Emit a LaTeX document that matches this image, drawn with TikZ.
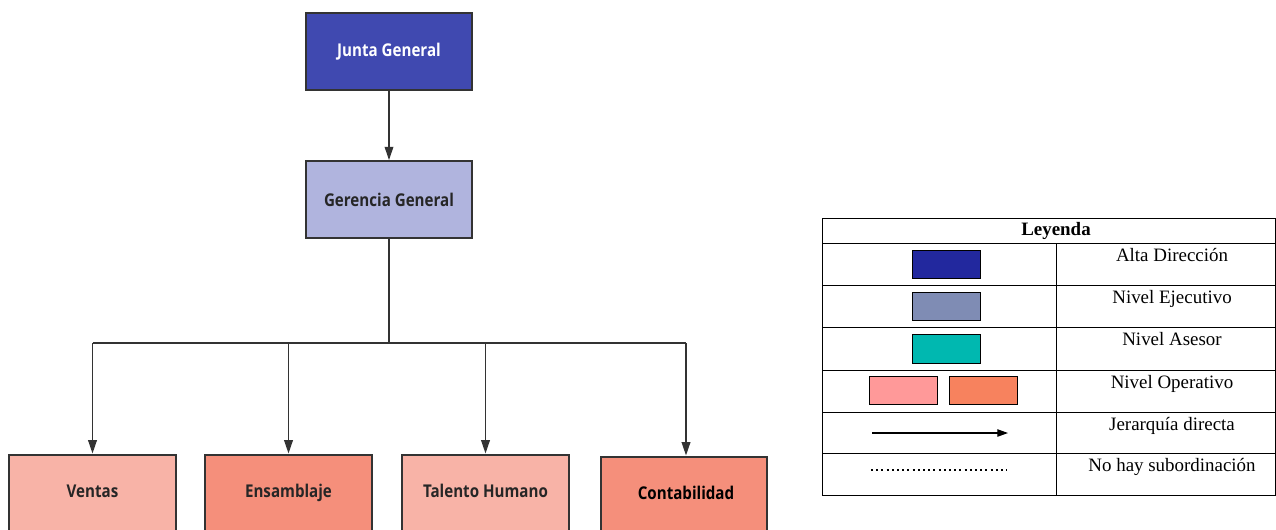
\documentclass[tikz,border=0pt]{standalone}
\usepackage{fontspec}
\setmainfont{Liberation Serif}
\newfontfamily\orgfont[FakeStretch=0.86]{Open Sans}
\usetikzlibrary{arrows.meta}
\definecolor{juntaC}{HTML}{4049B0}
\definecolor{gerC}{HTML}{B0B4DE}
\definecolor{lpink}{HTML}{F8B3A7}
\definecolor{dpink}{HTML}{F58F7B}
\definecolor{altaC}{HTML}{22289E}
\definecolor{ejeC}{HTML}{7F8CB4}
\definecolor{aseC}{HTML}{00B8B0}
\definecolor{opAC}{HTML}{FF9999}
\definecolor{opBC}{HTML}{F7825E}
\definecolor{borderC}{HTML}{333333}
\tikzset{
  orgbox/.style={draw=borderC, line width=1.6pt, minimum width=125pt, minimum height=57.5pt, inner sep=0pt, font=\orgfont\bfseries\fontsize{13.2}{15}\selectfont, text=black!85},
  orgtext/.style={font=\orgfont\bfseries\fontsize{13.2}{15}\selectfont, text=black!85, anchor=base},
  conn/.style={draw=black!80, line width=1.1pt},
  arr/.style={conn, -{Triangle[length=10pt,width=6.5pt]}},
  swatch/.style={draw=black, line width=0.8pt, minimum width=51.5pt, minimum height=21.5pt, inner sep=0pt},
  legtext/.style={font=\fontsize{14.2}{16}\selectfont, anchor=north},
  legline/.style={draw=black, line width=0.6pt}
}
\begin{document}
\begin{tikzpicture}[x=0.75pt,y=-0.75pt]
\useasboundingbox (0,0) rectangle (1276,529);
% org chart
\node[orgbox, fill=juntaC, text=white] (junta) at (389,51.5) {Junta General};
\node[orgbox, fill=gerC] (ger) at (389,199.5) {Gerencia General};
\node[orgbox, fill=lpink, minimum height=80pt, anchor=north] (ventas) at (92.5,453.5) {};
\node[orgbox, fill=dpink, minimum height=80pt, anchor=north] (ens) at (288.5,453.5) {};
\node[orgbox, fill=lpink, minimum height=80pt, anchor=north] (tal) at (485.5,453.5) {};
\node[orgbox, fill=dpink, minimum height=80pt, anchor=north] (cont) at (684,455.5) {};
\node[orgtext] (ventasT) at (92.5,497.5) {Ventas};
\node[orgtext] (ensT) at (288.5,497.5) {Ensamblaje};
\node[orgtext] (talT) at (485.5,497.5) {Talento Humano};
\node[orgtext, text=black] (contT) at (686,499.5) {Contabilidad};
\coordinate (bus) at (389,343);
\coordinate (busL) at (92.5,343);
\coordinate (busB) at (288.5,343);
\coordinate (busC) at (485.5,343);
\coordinate (busR) at (686,343);
\draw[arr] (junta) -- (ger);
\draw[conn] (ger.south) -- (bus);
\draw[conn] (busL) -- (busR);
\draw[arr] (busL) -- (ventas.north);
\draw[arr] (busB) -- (ens.north);
\draw[arr] (busC) -- (tal.north);
\draw[arr] (busR) -- (cont.north -| busR);
% legend
\draw[legline] (822,218) rectangle (1275.5,495);
\foreach \yy in {243,285,327,370,412,453} \draw[legline] (822,\yy) -- (1275.5,\yy);
\draw[legline] (1056,243) -- (1056,495);
\node[font=\bfseries\fontsize{14.2}{16}\selectfont] (leyenda) at (1056,231) {Leyenda};
\node[swatch, fill=altaC] (s1) at (946.5,264.5) {};
\node[swatch, fill=ejeC] (s2) at (946.5,306.5) {};
\node[swatch, fill=aseC] (s3) at (946.5,349) {};
\node[swatch, fill=opAC] (s4a) at (903.5,390.5) {};
\node[swatch, fill=opBC] (s4b) at (983.5,390.5) {};
\coordinate (la) at (872,433);
\coordinate (lb) at (1008,433);
\draw[legline, line width=0.9pt, -{Triangle[length=8pt,width=5.5pt]}] (la) -- (lb);
\coordinate (da) at (871,470);
\coordinate (db) at (1007,470);
\draw[legline, line width=1.5pt, dash pattern=on 1.5pt off 2.4pt] (da) -- (db);
\node[legtext] (t1) at (1172,243.5) {Alta Dirección};
\node[legtext] (t2) at (1172,285.5) {Nivel Ejecutivo};
\node[legtext] (t3) at (1172,327.5) {Nivel Asesor};
\node[legtext] (t4) at (1172,370.5) {Nivel Operativo};
\node[legtext] (t5) at (1172,412.5) {Jerarquía directa};
\node[legtext] (t6) at (1172,453.5) {No hay subordinación};
\end{tikzpicture}
\end{document}
